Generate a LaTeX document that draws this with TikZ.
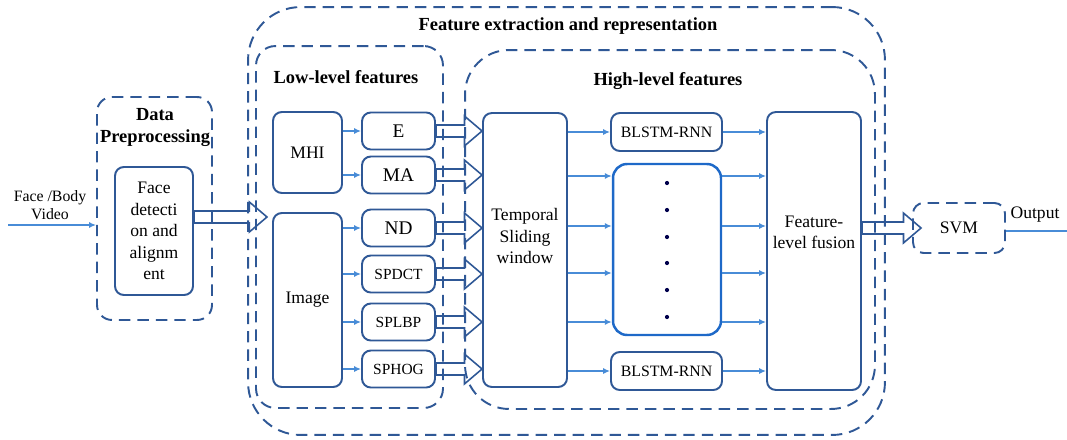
\documentclass[tikz,border=0pt]{standalone}
\usepackage{fontspec}
\setmainfont{Liberation Serif}
\usetikzlibrary{arrows.meta,calc}
\definecolor{boxblue}{RGB}{47,88,150}
\definecolor{lineblue}{RGB}{72,140,215}
\definecolor{dotblue}{RGB}{30,105,200}
\begin{document}
\begin{tikzpicture}[x=0.02cm,y=-0.02cm]

    \tikzset{
      block/.style={
        draw=boxblue,
        line width=1.1pt,
        rounded corners=5pt,
        align=center,
        inner sep=0pt,
        font=\fontsize{10}{12.3}\selectfont,
      },
      dashbox/.style={
        draw=boxblue,
        line width=1.1pt,
        dash pattern=on 6.5pt off 4pt,
        rounded corners=#1,
        inner sep=0pt,
      },
      dashbox/.default=6pt,
      heading/.style={font=\bfseries\fontsize{10.5}{12}\selectfont, align=center},
      feed/.style={draw=lineblue, line width=0.8pt, -{Latex[length=4pt,width=3.5pt]}},
      fat/.style={
        draw=boxblue,
        line width=0.9pt,
        to path={let \p1=(\tikztostart), \p2=(\tikztotarget) in
          (\x1,\y1+3.4pt) -- (\x2-10pt,\y1+3.4pt) -- (\x2-10pt,\y1+8.5pt) -- (\x2,\y1)
          -- (\x2-10pt,\y1-8.5pt) -- (\x2-10pt,\y1-3.4pt) -- (\x1,\y1-3.4pt) -- cycle},
      },
    }
    \useasboundingbox (0,0) rectangle (1067,439);

    % containers
    \node[dashbox=30pt, minimum width=12.74cm, minimum height=8.56cm] (fer) at (566.5,221) {};
    \node[heading] (fertitle) at (568,26) {Feature extraction and representation};
    \node[dashbox=11pt, minimum width=3.74cm, minimum height=7.24cm] (low) at (349.5,227) {};
    \node[heading] (lowtitle) at (346,77) {Low-level features};
    \node[dashbox=25pt, minimum width=8.2cm, minimum height=7.18cm] (high) at (670,229.5) {};
    \node[heading] (hightitle) at (668,81) {High-level features};
    \node[dashbox=8.5pt, minimum width=2.3cm, minimum height=4.46cm] (pre) at (154.5,208.5) {};
    \node[heading] (pretitle) at (155,127.5) {Data\\Preprocessing};

    % input
    \coordinate (vin) at (8,225);
    \node[font=\fontsize{9}{10.5}\selectfont, align=center] (vinlabel) at (50,205) {Face /Body\\Video};
    \draw[feed] (vin) -- (vin -| pre.west);
    \node[block, minimum width=1.56cm, minimum height=2.56cm] (face) at (154,231) {Face\\detecti\\on and\\alignm\\ent};
    \coordinate (lowin) at (267,217);
    \draw[fat] (face.east |- lowin) to (lowin);

    % low-level
    \node[block, minimum width=1.38cm, minimum height=1.62cm] (mhi) at (307.5,152.5) {MHI};
    \node[block, minimum width=1.38cm, minimum height=3.48cm] (img) at (307.5,300) {Image};
    \node[block, minimum width=1.46cm, minimum height=0.74cm, font=\fontsize{11}{12}\selectfont] (e) at (398.5,131) {E};
    \node[block, minimum width=1.46cm, minimum height=0.74cm, font=\fontsize{11}{12}\selectfont] (ma) at (398.5,175) {MA};
    \node[block, minimum width=1.46cm, minimum height=0.74cm, font=\fontsize{11}{12}\selectfont] (nd) at (398.5,228) {ND};
    \node[block, minimum width=1.46cm, minimum height=0.74cm, font=\fontsize{8.8}{10}\selectfont] (dct) at (398.5,274) {SPDCT};
    \node[block, minimum width=1.46cm, minimum height=0.74cm, font=\fontsize{8.8}{10}\selectfont] (lbp) at (398.5,322) {SPLBP};
    \node[block, minimum width=1.46cm, minimum height=0.74cm, font=\fontsize{8.8}{10}\selectfont] (hog) at (398.5,369) {SPHOG};
    \foreach \b in {e,ma} \draw[feed] (mhi.east |- \b.west) -- (\b.west);
    \foreach \b in {nd,dct,lbp,hog} \draw[feed] (img.east |- \b.west) -- (\b.west);

    % high-level
    \node[block, minimum width=1.68cm, minimum height=5.48cm,
      label={[font=\fontsize{10}{12}\selectfont, align=center, yshift=0.28cm]center:Temporal\\Sliding\\window}] (tsw) at (525,250) {};
    \foreach \b in {e,ma,nd,dct,lbp,hog} \draw[fat] (\b.east) to (\b.east -| tsw.west);
    \node[block, minimum width=2.22cm, minimum height=0.76cm, font=\fontsize{9}{10}\selectfont] (bl1) at (666.5,132) {BLSTM-RNN};
    \node[block, draw=dotblue, line width=1.4pt, rounded corners=8pt, minimum width=2.16cm, minimum height=3.42cm] (dots) at (667,249.5) {};
    \node[block, minimum width=2.22cm, minimum height=0.76cm, font=\fontsize{9}{10}\selectfont] (bl2) at (666.5,371) {BLSTM-RNN};
    \foreach \y in {183,210,237,263,290,317} \fill[black!70!blue] (667,\y) circle (1.2pt);
    \node[block, minimum width=1.88cm, minimum height=5.56cm,
      label={[font=\fontsize{10}{12}\selectfont, align=center, yshift=0.38cm]center:Feature-\\level fusion}] (fus) at (814,251) {};
    \draw[feed] (tsw.east |- bl1.west) -- (bl1.west);
    \draw[feed] (tsw.east |- bl2.west) -- (bl2.west);
    \draw[feed] (bl1.east) -- (bl1.east -| fus.west);
    \draw[feed] (bl2.east) -- (bl2.east -| fus.west);
    \foreach \y in {176,226,273,322} {
      \draw[feed] (tsw.east |- 0,\y) -- (dots.west |- 0,\y);
      \draw[feed] (dots.east |- 0,\y) -- (fus.west |- 0,\y);
    }

    % classifier
    \node[dashbox=6pt, minimum width=1.84cm, minimum height=1cm, font=\fontsize{10}{12}\selectfont] (svm) at (959,228) {SVM};
    \draw[fat] (fus.east |- svm.west) to ([xshift=0.18cm]svm.west);
    \coordinate (vout) at (1067,231);
    \draw[draw=lineblue, line width=0.8pt] (svm.east |- vout) -- (vout);
    \node[font=\fontsize{10}{12}\selectfont] (outlabel) at (1035,215) {Output};

\end{tikzpicture}
\end{document}
